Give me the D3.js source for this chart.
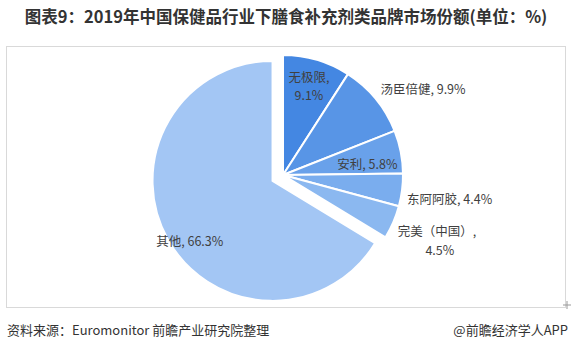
<!DOCTYPE html>
<html><head><meta charset="utf-8">
<script src="https://cdn.jsdelivr.net/npm/d3@7"></script>
<style>
html,body{margin:0;padding:0;background:#fff;}
text{font-family:"Noto Sans CJK SC","Microsoft YaHei",sans-serif;}
</style></head>
<body>
<svg id="chart" width="572" height="357"></svg>
<script>
const title = "图表9：2019年中国保健品行业下膳食补充剂类品牌市场份额(单位：%)";
const source = "资料来源：Euromonitor 前瞻产业研究院整理";
const credit = "@前瞻经济学人APP";
const brands = ["无极限", "汤臣倍健", "安利", "东阿阿胶", "完美（中国）", "其他"];
const shares = [9.1, 9.9, 5.8, 4.4, 4.5, 66.3];
const colors = ["#4487e2", "#5895e6", "#69a1ea", "#7aadee", "#8bb8f0", "#a3c6f4"];

// label layout: radius along slice mid-angle, anchor, shifts, line split
const labelStyle = [
  {r: 92, anchor: "middle", dy: 0, split: true, l1: -9, l2: 9, second: 0},
  {r: 130, anchor: "start", dy: -3, dx: -3, split: false},
  {r: 86, anchor: "middle", dy: 6, split: false},
  {r: 125, anchor: "start", dy: 9, split: false},
  {r: 125, anchor: "start", dy: 8, split: true, l1: -1, l2: 18, second: 42},
  {r: 95, anchor: "middle", dy: 14, split: false}
];

const svg = d3.select("#chart");
const W = 572, H = 357;

svg.append("text").attr("x", W/2).attr("y", 23).attr("text-anchor", "middle")
  .attr("font-size", 16.5).attr("font-weight", "bold").attr("fill", "#333").text(title);

svg.append("rect").attr("x", 6.5).attr("y", 46.5).attr("width", 559).attr("height", 261)
  .attr("fill", "none").attr("stroke", "#d9d9d9").attr("stroke-width", 1);
svg.append("path").attr("d", "M563,305H571M567,301V309").attr("stroke", "#999").attr("stroke-width", 1);

const cx = 283, cy = 175, R = 120, explode = 12;
const pie = d3.pie().value(d => d).sort(null);
const arcs = pie(shares);
const arc = d3.arc().innerRadius(0).outerRadius(R);

const g = svg.append("g").attr("transform", `translate(${cx},${cy})`);

arcs.forEach((a, i) => {
  const mid = (a.startAngle + a.endAngle) / 2;
  const off = (i === arcs.length - 1) ? explode : 0;
  const ox = Math.sin(mid) * off, oy = -Math.cos(mid) * off;
  const sg = g.append("g").attr("transform", `translate(${ox},${oy})`);
  sg.append("path").attr("d", arc(a)).attr("fill", colors[i])
    .attr("stroke", "#fff").attr("stroke-width", 2).attr("stroke-linejoin", "round");

  const ls = labelStyle[i];
  const lx = Math.sin(mid) * ls.r + (ls.dx || 0);
  const ly = -Math.cos(mid) * ls.r + ls.dy;
  if (ls.split) {
    sg.append("text").attr("font-size", 12.5).attr("fill", "#404040").attr("text-anchor", ls.anchor)
      .attr("x", lx).attr("y", ly + ls.l1).attr("dy", "0.35em").text(brands[i] + ",");
    sg.append("text").attr("font-size", 12.5).attr("fill", "#404040").attr("text-anchor", "middle")
      .attr("x", lx + ls.second).attr("y", ly + ls.l2).attr("dy", "0.35em").text(shares[i] + "%");
  } else {
    sg.append("text").attr("font-size", 12.5).attr("fill", "#404040").attr("text-anchor", ls.anchor)
      .attr("x", lx).attr("y", ly).attr("dy", "0.35em").text(brands[i] + ", " + shares[i] + "%");
  }
});

svg.append("text").attr("x", 7).attr("y", 330).attr("dy", "0.35em").attr("font-size", 13)
  .attr("fill", "#333").text(source);
svg.append("text").attr("x", 568).attr("y", 330).attr("dy", "0.35em").attr("font-size", 13)
  .attr("text-anchor", "end").attr("fill", "#333").text(credit);
</script>
</body></html>
